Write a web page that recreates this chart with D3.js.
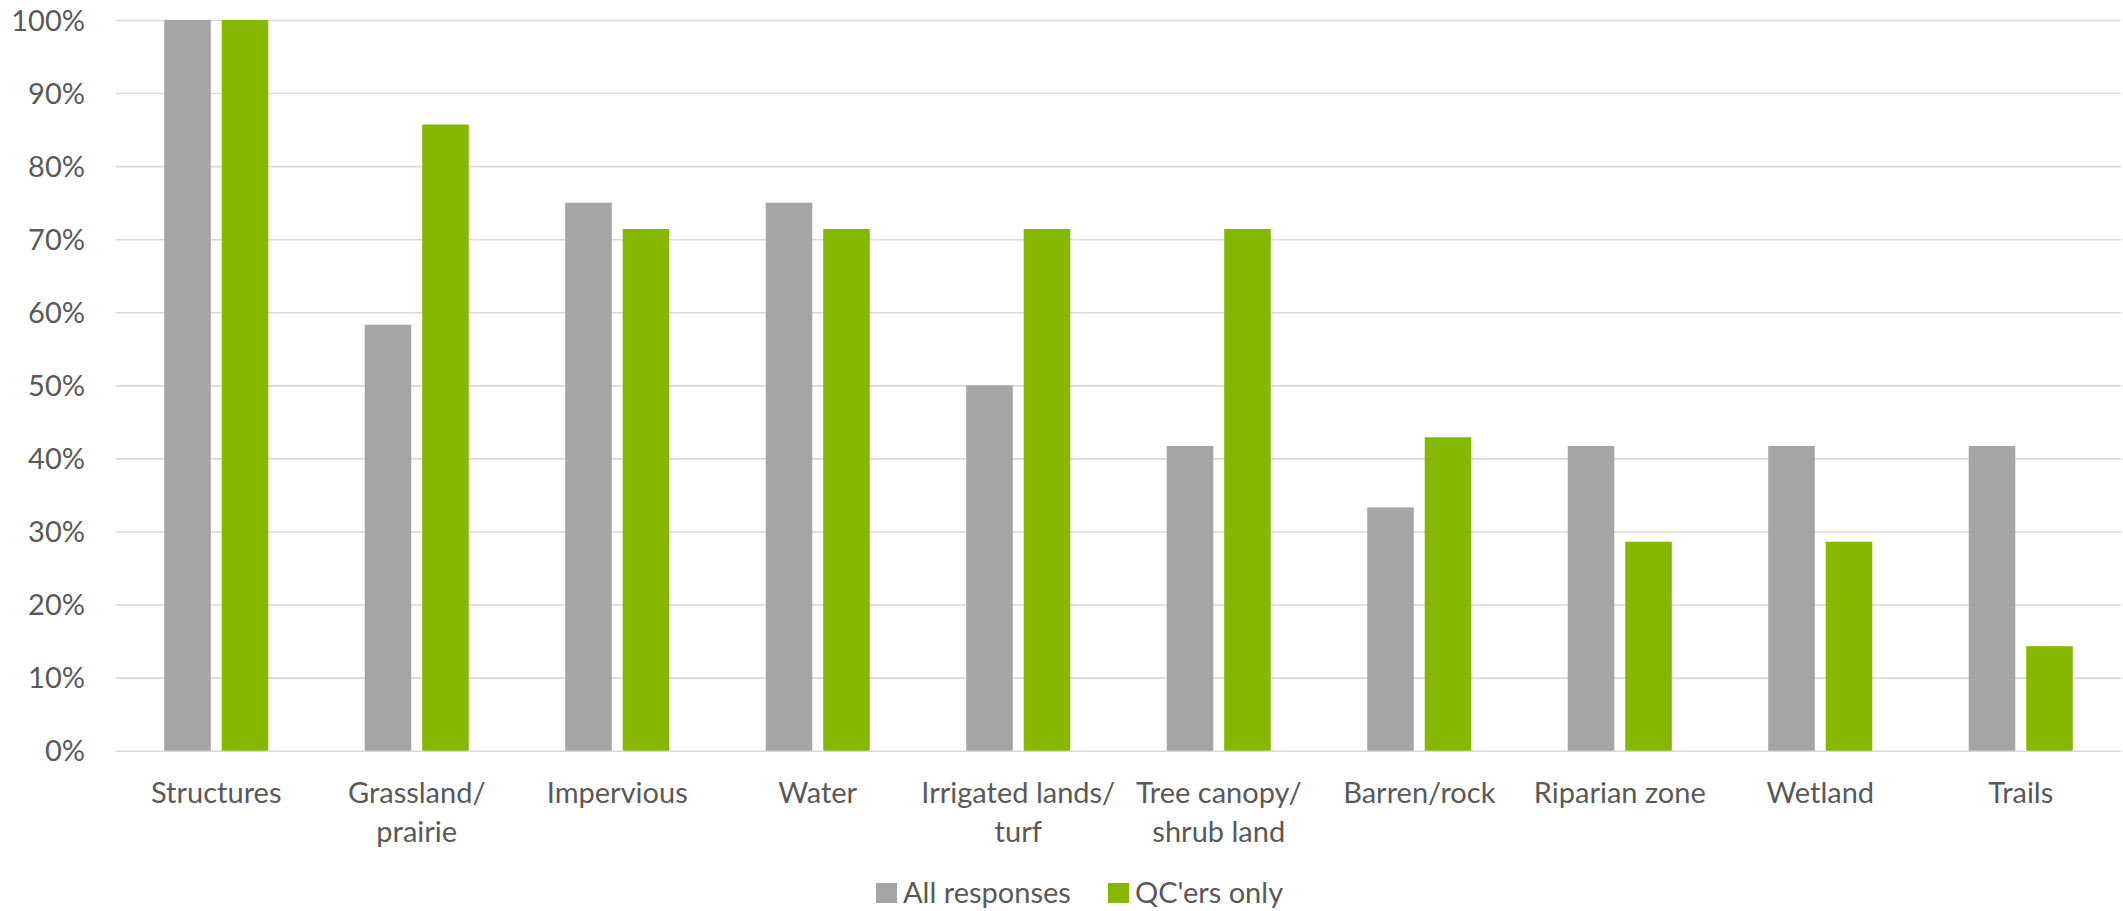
<!DOCTYPE html>
<html>
<head>
<meta charset="utf-8">
<script src="https://cdn.jsdelivr.net/npm/d3@7"></script>
<style>
  html, body { margin: 0; padding: 0; background: #fff; }
  svg { display: block; }
  text { font-family: Lato, "Open Sans", sans-serif; fill: #595959; }
</style>
</head>
<body>
<svg id="chart" width="2123" height="911"></svg>
<script>
// Land cover categories (line breaks mark wrapped axis labels)
const categories = [
  "Structures", "Grassland/\nprairie", "Impervious", "Water",
  "Irrigated lands/\nturf", "Tree canopy/\nshrub land", "Barren/rock",
  "Riparian zone", "Wetland", "Trails"
];
const seriesNames = ["All responses", "QC'ers only"];
const allResponses = [100, 58.3, 75, 75, 50, 41.7, 33.3, 41.7, 41.7, 41.7];
const qcersOnly    = [100, 85.7, 71.4, 71.4, 71.4, 71.4, 42.9, 28.6, 28.6, 14.3];
const yTicks = [0, 10, 20, 30, 40, 50, 60, 70, 80, 90, 100];
const colors = ["#a5a5a5", "#86b800"];

const seriesValues = [allResponses, qcersOnly];
const rows = categories.map((c, i) => ({
  category: c,
  values: seriesNames.map((s, j) => ({ series: s, value: seriesValues[j][i] }))
}));

const svg = d3.select("#chart");
const plot = { left: 116, right: 2121, top: 20, bottom: 750.7 };

const y = d3.scaleLinear().domain([0, 100]).range([plot.bottom, plot.top]);
const x0 = d3.scaleBand().domain(categories).range([plot.left, plot.right])
  .paddingInner(0.481).paddingOuter(0.2405);
const x1 = d3.scaleBand().domain(seriesNames).range([0, x0.bandwidth()])
  .paddingInner(0.19).paddingOuter(0);
const color = d3.scaleOrdinal().domain(seriesNames).range(colors);

// Horizontal gridlines
const yAxis = d3.axisLeft(y).tickValues(yTicks).tickFormat(d => d + "%")
  .tickSize(-(plot.right - plot.left)).tickPadding(31);
const gy = svg.append("g").attr("transform", `translate(${plot.left},0)`).call(yAxis);
gy.select(".domain").remove();
gy.selectAll(".tick line").attr("stroke", "#d9d9d9").attr("stroke-width", 1.6);
gy.selectAll(".tick text").attr("font-size", 29).attr("fill", "#595959")
  .attr("dy", "0.35em");

// Bars
const groups = svg.append("g").selectAll("g").data(rows).join("g")
  .attr("transform", d => `translate(${x0(d.category)},0)`);
groups.selectAll("rect").data(d => d.values).join("rect")
  .attr("x", d => x1(d.series))
  .attr("width", x1.bandwidth())
  .attr("y", d => y(d.value))
  .attr("height", d => y(0) - y(d.value))
  .attr("fill", d => color(d.series));

// Category labels
const xAxis = d3.axisBottom(x0).tickSize(0).tickFormat("");
const gx = svg.append("g").attr("transform", `translate(0,${plot.bottom})`).call(xAxis);
gx.select(".domain").remove();
gx.selectAll(".tick").each(function(d) {
  const lines = d.split("\n");
  const t = d3.select(this).append("text")
    .attr("text-anchor", "middle").attr("font-size", 29).attr("fill", "#595959");
  lines.forEach((ln, i) => {
    t.append("tspan").attr("x", 0).attr("y", 52 + i * 39).text(ln);
  });
});

// Legend
const legend = svg.append("g").attr("transform", "translate(876,883)");
const legendX = [0, 232];
seriesNames.forEach((s, i) => {
  const g = legend.append("g").attr("transform", `translate(${legendX[i]},0)`);
  g.append("rect").attr("width", 21).attr("height", 20).attr("fill", color(s));
  g.append("text").attr("x", 27).attr("y", 20).attr("font-size", 29).text(s);
});
</script>
</body>
</html>
